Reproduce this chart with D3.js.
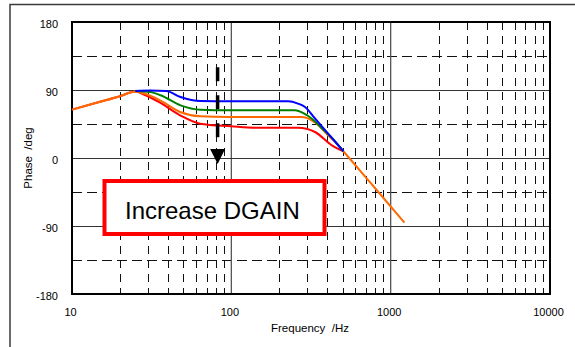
<!DOCTYPE html>
<html>
<head>
<meta charset="utf-8">
<script src="https://cdn.jsdelivr.net/npm/d3@7"></script>
<style>
  body { margin: 0; background: #fff; }
  svg { display: block; }
  text { font-family: "Liberation Sans Narrow", "Liberation Sans", Arial, sans-serif; white-space: pre; }
</style>
</head>
<body>
<div id="bode"></div>
<script>
// tick values
var freqTicks = [10, 100, 1000, 10000];
var phaseTicks = [-180, -90, 0, 90, 180];
var phaseDashed = [-135, -45, 45, 135];

// phase curves, [frequency Hz, phase deg]
var redData = [[10, 64], [15, 74.4], [20, 81.8], [25, 88], [28.7, 83.4], [35.7, 73.2], [47.7, 56.5],
  [63.6, 45.4], [100, 42], [141, 40.1], [262, 40.1], [335, 34.4], [427, 16.8], [505, 8.9]];
var orangeData = [[10, 64], [15, 74.4], [20, 81.8], [25, 88], [28.7, 85], [35.7, 76.4], [47.7, 60.9],
  [63.6, 55.2], [98, 54.3], [277, 54.3], [352, 43.3], [400, 31], [450, 21], [505, 8.9], [787, -38.4], [1220, -85.6]];
var greenData = [[25, 88.7], [31, 87.4], [36, 83], [48, 69.7], [64, 63.9], [98, 63.1], [251, 63.1],
  [285, 59], [320, 52], [369, 39.5], [420, 28.5], [505, 8.9]];
var blueData = [[25, 88.7], [31, 89.3], [39, 88.7], [48, 80.7], [64, 75.4], [98, 75], [227, 75],
  [262, 72], [290, 67.5], [335, 52.3], [410, 31], [505, 8.9]];

var series = [
  {name: "red", color: "#ff0000", data: redData},
  {name: "orange", color: "#ff6a00", data: orangeData},
  {name: "green", color: "#008000", data: greenData},
  {name: "blue", color: "#0000ff", data: blueData}
];

var W = 575, H = 347;
var margin = {top: 22, right: 25, bottom: 53, left: 72};

var svg = d3.select("#bode").append("svg")
  .attr("width", W)
  .attr("height", H);

// outer frame (top + left only)
svg.append("path")
  .attr("d", "M10,347V4.5H575")
  .attr("fill", "none")
  .attr("stroke", "#3a3a3a")
  .attr("stroke-width", 1.5);

var x = d3.scaleLog().domain([10, 10000]).range([margin.left, W - margin.right]);
var y = d3.scaleLinear().domain([-180, 180]).range([H - margin.bottom, margin.top]);

var grid = svg.append("g");

// minor verticals (dashed)
var minor = x.ticks().filter(function(d) { return freqTicks.indexOf(d) < 0; });
grid.selectAll(".vminor").data(minor).join("line")
  .attr("x1", d => Math.round(x(d)) + 0.5).attr("x2", d => Math.round(x(d)) + 0.5)
  .attr("y1", y(180)).attr("y2", y(-180))
  .attr("stroke", "#111").attr("stroke-width", 1)
  .attr("stroke-dasharray", "8,6");

// horizontal dashed
grid.selectAll(".hminor").data(phaseDashed).join("line")
  .attr("x1", x(10)).attr("x2", x(10000))
  .attr("y1", d => Math.round(y(d)) + 0.5).attr("y2", d => Math.round(y(d)) + 0.5)
  .attr("stroke", "#111").attr("stroke-width", 1)
  .attr("stroke-dasharray", "10,5");

// major verticals
grid.selectAll(".vmajor").data([100, 1000]).join("line")
  .attr("x1", d => x(d)).attr("x2", d => x(d))
  .attr("y1", y(180)).attr("y2", y(-180))
  .attr("stroke", "#555").attr("stroke-width", 1.3);

// major horizontals
grid.selectAll(".hmajor").data([-90, 0, 90]).join("line")
  .attr("x1", x(10)).attr("x2", x(10000))
  .attr("y1", d => Math.round(y(d)) + 0.5).attr("y2", d => Math.round(y(d)) + 0.5)
  .attr("stroke", "#333").attr("stroke-width", 1);

// plot frame
svg.append("rect")
  .attr("x", x(10)).attr("y", y(180))
  .attr("width", x(10000) - x(10)).attr("height", y(-180) - y(180))
  .attr("fill", "none").attr("stroke", "#000").attr("stroke-width", 2);

// axes (labels only)
var xAxis = svg.append("g")
  .attr("transform", "translate(-2," + y(-180) + ")")
  .call(d3.axisBottom(x).tickValues(freqTicks).tickSize(0).tickPadding(14).tickFormat(d => String(d)));
xAxis.select(".domain").remove();
xAxis.selectAll("text").attr("font-size", 11).attr("fill", "#000")
  .style("font-family", '"Liberation Sans Narrow", "Liberation Sans", Arial, sans-serif');

var yAxis = svg.append("g")
  .attr("transform", "translate(" + (x(10) - 14) + ",1.5)")
  .call(d3.axisLeft(y).tickValues(phaseTicks).tickSize(0).tickPadding(0).tickFormat(d => String(d)));
yAxis.select(".domain").remove();
yAxis.selectAll("text").attr("font-size", 11).attr("fill", "#000")
  .style("font-family", '"Liberation Sans Narrow", "Liberation Sans", Arial, sans-serif');

// axis titles
svg.append("text")
  .attr("x", 310).attr("y", 332)
  .attr("text-anchor", "middle")
  .attr("font-size", 11.5)
  .text("Frequency  /Hz");

svg.append("text")
  .attr("transform", "translate(32,158) rotate(-90)")
  .attr("text-anchor", "middle")
  .attr("font-size", 11.5)
  .text("Phase  /deg");

// curves
var line = d3.line()
  .x(d => x(d[0]))
  .y(d => y(d[1]))
  .curve(d3.curveMonotoneX);

svg.append("g").selectAll("path").data(series).join("path")
  .attr("d", d => line(d.data))
  .attr("fill", "none")
  .attr("stroke", d => d.color)
  .attr("stroke-width", 2);

// arrow annotation
var ax = x(82);
svg.append("line")
  .attr("x1", ax).attr("x2", ax)
  .attr("y1", y(120)).attr("y2", y(12))
  .attr("stroke", "#000").attr("stroke-width", 3.5)
  .attr("stroke-dasharray", "14,14");
svg.append("path")
  .attr("d", "M" + (ax - 7.5) + "," + y(12) + "L" + (ax + 7.5) + "," + y(12) + "L" + ax + "," + y(-8) + "Z")
  .attr("fill", "#000");

// label box
svg.append("rect")
  .attr("x", 104.5).attr("y", 181)
  .attr("width", 220).attr("height", 53)
  .attr("fill", "#fff")
  .attr("stroke", "#ff0000").attr("stroke-width", 4);
svg.append("text")
  .attr("x", 125).attr("y", 219.3)
  .attr("font-size", 24)
  .style("font-family", '"Liberation Sans", Arial, sans-serif')
  .attr("fill", "#000")
  .text("Increase DGAIN");
</script>
</body>
</html>
